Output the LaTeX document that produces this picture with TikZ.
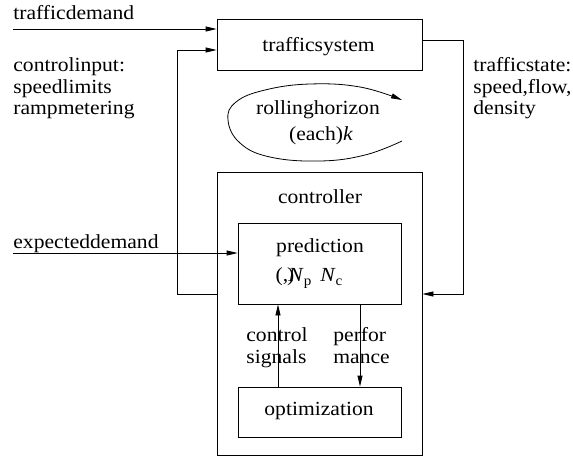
\documentclass[tikz,border=0pt]{standalone}
\usepackage{fontspec}
\setmainfont[FakeStretch=1.08]{Liberation Serif}
\usetikzlibrary{arrows.meta}
\begin{document}
\begin{tikzpicture}[x=1pt,y=-1pt,
  line width=0.8pt,
  every node/.style={inner sep=0pt,font=\fontsize{20}{24}\selectfont},
  blk/.style={draw,line width=0.8pt},
  lbl/.style={anchor=base west},
  clbl/.style={anchor=base},
  arr/.style={-{Triangle[length=11pt,width=5pt]}}]
\useasboundingbox (0,0) rectangle (573,459);

% blocks
\node[blk,minimum width=205pt,minimum height=51pt] (sys) at (319.5,44.5) {};
\node[blk,minimum width=205pt,minimum height=283pt] (ctrl) at (319.5,313.5) {};
\node[blk,minimum width=163pt,minimum height=81pt] (pred) at (319.5,263.5) {};
\node[blk,minimum width=163pt,minimum height=50pt] (opt) at (319.5,412) {};

% block texts
\node[clbl] (tsys) at (318.5,51) {trafficsystem};
\node[clbl] (tctrl) at (320,203) {controller};
\node[clbl] (tpred) at (320,252) {prediction};
\node[clbl] (thor) at (309,281) {(,\kern-1pt)\kern-6pt\textit{N}\raisebox{-4pt}{\fontsize{14}{14}\selectfont p}\hspace{9pt}\textit{N}\raisebox{-4pt}{\fontsize{14}{14}\selectfont c}};
\node[clbl] (topt) at (319,415) {optimization};

% inputs from the left
\coordinate (dem0) at (13,29);
\draw[arr] (dem0) -- (dem0 -| sys.west);
\node[lbl] (tdem) at (13,19) {trafficdemand};
\coordinate (edem0) at (13,253);
\draw[arr] (edem0) -- (edem0 -| pred.west);
\node[lbl] (tedem) at (13,248) {expecteddemand};

\node[lbl] (tci1) at (13,71) {controlinput:};
\node[lbl] (tci2) at (13,93) {speedlimits};
\node[lbl] (tci3) at (13,114) {rampmetering};

\node[lbl] (tts1) at (473,71) {trafficstate:};
\node[lbl] (tts2) at (473,93) {speed,flow,};
\node[lbl] (tts3) at (473,114) {density};

% feedback loops
\coordinate (cl) at (177,294);
\coordinate (cr) at (463,294);
\draw[arr] (cl -| ctrl.west) -- (cl) -- (cl |- 0,50) -- (sys.west |- 0,50);
\draw[arr] (sys.east |- 0,40) -- (cr |- 0,40) -- (cr) -- (cr -| ctrl.east);

% control signals / performance
\coordinate (cs) at (278,0);
\coordinate (pf) at (360,0);
\draw[arr] (cs |- opt.north) -- (cs |- pred.south);
\draw[arr] (pf |- pred.south) -- (pf |- opt.north);
\node[lbl] (tcs1) at (246,341) {control};
\node[lbl] (tcs2) at (246,363) {signals};
\node[lbl] (tpf1) at (333,341) {perfor};
\node[lbl] (tpf2) at (333,363) {mance};

% rolling horizon loop
\draw[arr] plot[smooth,tension=0.7] coordinates {(402,141) (365,155) (320,161)
  (270,157) (240,143) (228,120) (236,102) (265,90) (310,84) (360,87) (402,100)};
\node[clbl] (troll) at (318,114) {rollinghorizon};
\node[clbl] (teach) at (321,140) {(each)\textit{k}};
\end{tikzpicture}
\end{document}
